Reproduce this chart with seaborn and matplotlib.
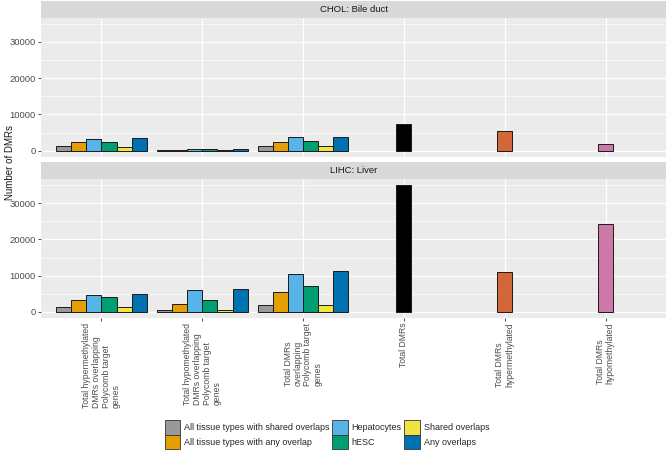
import matplotlib
matplotlib.use("Agg")
import matplotlib.pyplot as plt
import seaborn as sns
import pandas as pd
from matplotlib.patches import Patch
from matplotlib.ticker import MultipleLocator

# ---------------- data ----------------
categories = [
    "Total hypermethylated\nDMRs overlapping\nPolycomb target\ngenes",
    "Total hypomethylated\nDMRs overlapping\nPolycomb target\ngenes",
    "Total DMRs\noverlapping\nPolycomb target\ngenes",
    "Total DMRs",
    "Total DMRs\nhypermethylated",
    "Total DMRs\nhypomethylated",
]
overlap_types = [
    "All tissue types with shared overlaps",
    "All tissue types with any overlap",
    "Hepatocytes",
    "hESC",
    "Shared overlaps",
    "Any overlaps",
]
overlap_colors = ["#999999", "#E69F00", "#56B4E9", "#009E73", "#F0E442", "#0072B2"]
total_kinds = ["Total", "Hyper", "Hypo"]
total_colors = ["#000000", "#D3673A", "#CC79A7"]

panels = ["CHOL: Bile duct", "LIHC: Liver"]

chol_hyper_pc = [1300, 2400, 3100, 2500, 1100, 3400]
chol_hypo_pc = [60, 300, 500, 350, 60, 500]
chol_total_pc = [1300, 2500, 3700, 2800, 1300, 3900]
chol_totals = [7250, 5500, 1750]

lihc_hyper_pc = [1400, 3150, 4600, 3950, 1300, 4950]
lihc_hypo_pc = [420, 2200, 5900, 3300, 350, 6350]
lihc_total_pc = [1750, 5350, 10400, 7200, 1750, 11300]
lihc_totals = [35000, 10900, 24400]

panel_groups = {
    panels[0]: [chol_hyper_pc, chol_hypo_pc, chol_total_pc],
    panels[1]: [lihc_hyper_pc, lihc_hypo_pc, lihc_total_pc],
}
panel_totals = {panels[0]: chol_totals, panels[1]: lihc_totals}

# ---------------- style ----------------
sns.set_theme(style="darkgrid")
plt.rcParams["font.family"] = ["Liberation Sans", "DejaVu Sans"]

W, H = 668, 453
fig = plt.figure(figsize=(W / 100, H / 100), dpi=100)

def fx(px):
    return px / W

def fy(py):
    return 1 - py / H

left, right = 41, 666
panel_px = [(17.5, 157.0), (179.0, 318.0)]
strip_px = [(1.0, 17.5), (161.7, 179.0)]

pal_overlap = dict(zip(overlap_types, overlap_colors))
pal_total = dict(zip(total_kinds, total_colors))

axes = []
for p, name in enumerate(panels):
    top, bot = panel_px[p]
    ax = fig.add_axes([fx(left), fy(bot), fx(right - left), (bot - top) / H])
    axes.append(ax)
    ax.set_facecolor("#EBEBEB")

    grp_rows = []
    for gi, vals in enumerate(panel_groups[name]):
        for t, v in zip(overlap_types, vals):
            grp_rows.append({"x": gi, "type": t, "value": v})
    df_g = pd.DataFrame(grp_rows)
    sns.barplot(data=df_g, x="x", y="value", hue="type", hue_order=overlap_types,
                palette=pal_overlap, dodge=True, width=0.9, native_scale=True,
                errorbar=None, legend=False, edgecolor="#1A1A1A", linewidth=0.7,
                saturation=1, ax=ax)

    tot_rows = []
    for ti, (k, v) in enumerate(zip(total_kinds, panel_totals[name])):
        tot_rows.append({"x": 3 + ti, "kind": k, "value": v})
    df_t = pd.DataFrame(tot_rows)
    sns.barplot(data=df_t, x="x", y="value", hue="kind", hue_order=total_kinds,
                palette=pal_total, dodge=False, width=0.15, native_scale=True,
                errorbar=None, legend=False, edgecolor="#1A1A1A", linewidth=0.7,
                saturation=1, ax=ax)

    ax.set_xlim(-0.6, 5.6)
    ax.set_ylim(-1750, 36750)
    ax.set_xticks(range(len(categories)))
    ax.set_yticks([0, 10000, 20000, 30000])
    ax.yaxis.set_minor_locator(MultipleLocator(5000))
    ax.set_yticklabels(["0", "10000", "20000", "30000"])
    ax.set_axisbelow(True)
    ax.grid(which="major", color="white", linewidth=0.9)
    ax.grid(which="minor", axis="y", color="white", linewidth=0.45)
    ax.grid(which="minor", axis="x", visible=False)
    for s in ax.spines.values():
        s.set_visible(False)
    ax.set_xlabel("")
    ax.set_ylabel("")
    ax.tick_params(axis="y", which="major", length=2.5, width=0.6, color="#333333",
                   labelsize=6.8, labelcolor="#4D4D4D", pad=1.5, left=True)
    ax.tick_params(axis="y", which="minor", length=0)
    if p == 0:
        ax.tick_params(axis="x", which="both", length=0, labelbottom=False)
    else:
        ax.tick_params(axis="x", which="major", length=2.5, width=0.6, color="#333333",
                       pad=1.0, bottom=True)
        ax.set_xticklabels(categories, rotation=90, ha="center", va="top",
                           multialignment="left", fontsize=6.2, color="#4D4D4D",
                           linespacing=1.1)

    # strip
    st, sb = strip_px[p]
    sax = fig.add_axes([fx(left), fy(sb), fx(right - left), (sb - st) / H])
    sax.set_facecolor("#D9D9D9")
    sax.set_xticks([])
    sax.set_yticks([])
    for s in sax.spines.values():
        s.set_visible(False)
    sax.text(0.5, 0.5, name, ha="center", va="center", fontsize=6.8,
             color="#1A1A1A", transform=sax.transAxes)

fig.text(fx(10), fy(163), "Number of DMRs", rotation=90, ha="center", va="center",
         fontsize=7.0, color="#1A1A1A")

handles = [Patch(facecolor=c, edgecolor="#333333", linewidth=0.6) for c in overlap_colors]
fig.legend(handles, overlap_types, loc="lower center", bbox_to_anchor=(fx(327), 4 / H),
           ncol=3, frameon=False, fontsize=6.5, handlelength=1.7, handleheight=2.08,
           handletextpad=0.45, columnspacing=0.3, labelspacing=0.0, borderpad=0.0,
           borderaxespad=0.0)

fig.savefig("out.png", dpi=100)
